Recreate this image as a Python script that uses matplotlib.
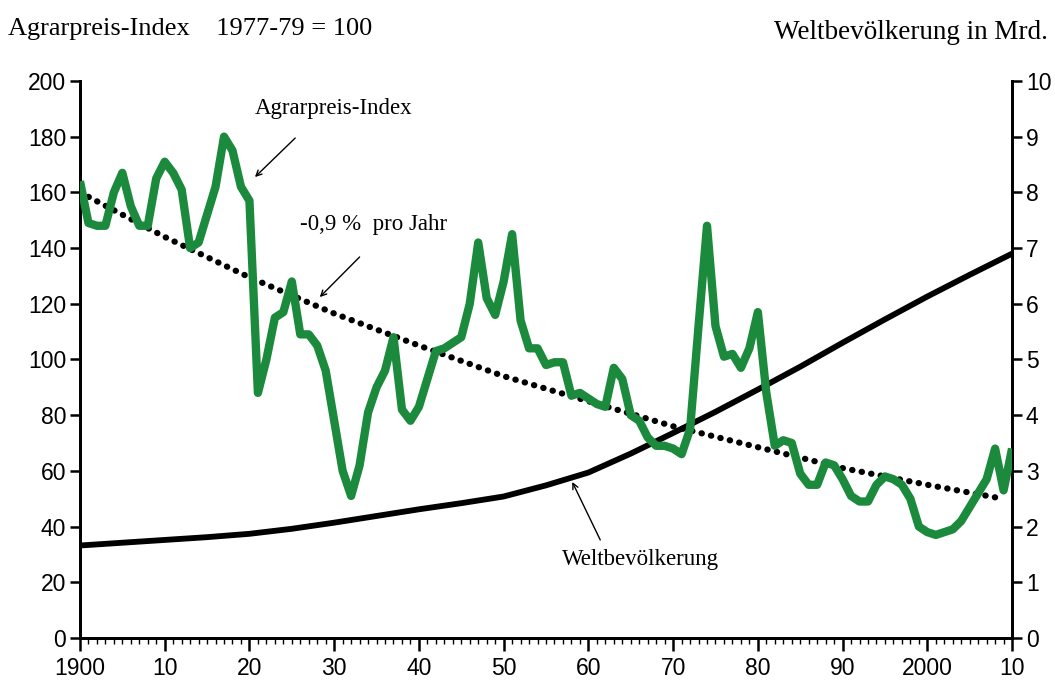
import numpy as np
import matplotlib.pyplot as plt
from matplotlib.ticker import MultipleLocator

# Agrarpreis-Index, jaehrlich 1900-2010 (1977-79 = 100)
jahre = list(range(1900, 2011))
preis = [164, 149, 148, 148, 160, 167, 155, 148, 148, 165,
         171, 167, 161, 140, 142, 152, 162, 180, 175, 162,
         157, 88, 100, 115, 117, 128, 109, 109, 105, 96,
         78, 60, 51, 62, 81, 90, 96, 108, 82, 78,
         83, 93, 103, 104, 106, 108, 120, 142, 122, 116,
         128, 145, 114, 104, 104, 98, 99, 99, 87, 88,
         86, 84, 83, 97, 93, 80, 78, 72, 69, 69,
         68, 66, 75, 112, 148, 112, 101, 102, 97, 104,
         117, 88, 69, 71, 70, 59, 55, 55, 63, 62,
         57, 51, 49, 49, 55, 58, 57, 55, 50, 40,
         38, 37, 38, 39, 42, 47, 52, 57, 68, 53,
         68]

# Trend -0,9 % pro Jahr
trend_jahre = [1900, 1910, 1920, 1930, 1940, 1950, 1960, 1970, 1980, 1990, 2000, 2008]
trend = [160, 144, 129.5, 116.5, 105, 94, 85, 76, 68.5, 61, 55, 50.5]

# Weltbevoelkerung in Mrd.
bev_jahre = [1900, 1905, 1910, 1915, 1920, 1925, 1930, 1935, 1940, 1945, 1950, 1955,
             1960, 1965, 1970, 1975, 1980, 1985, 1990, 1995, 2000, 2005, 2010]
bev = [1.66, 1.71, 1.76, 1.81, 1.87, 1.96, 2.07, 2.19, 2.31, 2.42, 2.54, 2.74,
       2.97, 3.31, 3.68, 4.06, 4.46, 4.87, 5.30, 5.72, 6.13, 6.52, 6.90]

gruen = "#1b8a3c"

plt.rcParams['font.family'] = ['Liberation Sans', 'DejaVu Sans']

fig = plt.figure(figsize=(10.55, 6.86), dpi=100)
ax = fig.add_axes([0.0758, 0.07, 0.8835, 0.812])
ax2 = ax.twinx()

ax.plot(trend_jahre, trend, color="black", linewidth=4.5,
        linestyle=(0, (0.05, 1.5)), dash_capstyle="round", zorder=2)
ax2.plot(bev_jahre, bev, color="black", linewidth=4.2, solid_joinstyle="round", zorder=3)
ax.plot(jahre, preis, color=gruen, linewidth=6, solid_joinstyle="round",
        solid_capstyle="butt", zorder=4)
ax.set_zorder(ax2.get_zorder() + 1)
ax.patch.set_visible(False)

ax.set_xlim(1900, 2010)
ax.set_ylim(0, 200)
ax2.set_ylim(0, 10)

ax.set_xticks(range(1900, 2011, 10))
ax.set_xticklabels(["1900", "10", "20", "30", "40", "50", "60", "70", "80", "90", "2000", "10"])
ax.xaxis.set_minor_locator(MultipleLocator(1))
ax.set_yticks(range(0, 201, 20))
ax2.set_yticks(range(0, 11))

for a in (ax, ax2):
    a.spines["top"].set_visible(False)
    for s in a.spines.values():
        s.set_linewidth(2)
ax.tick_params(axis="x", which="major", length=9, width=1.8, labelsize=16.5, pad=5)
ax.tick_params(axis="x", which="minor", length=4, width=1)
ax.tick_params(axis="y", length=7, width=1.8, labelsize=16.5, pad=3)
ax2.tick_params(axis="y", length=7, width=1.8, labelsize=16.5, pad=3)

serif = ['Liberation Serif', 'DejaVu Serif']
fig.text(0.008, 0.958, "Agrarpreis-Index    1977-79 = 100", family=serif, fontsize=19,
         va="center", ha="left")
fig.text(0.993, 0.953, "Weltbevölkerung in Mrd.", family=serif, fontsize=19.5,
         va="center", ha="right")

pfeil = dict(arrowstyle="->", color="black", lw=1, shrinkA=0, shrinkB=0)
ax.annotate("", xy=(1920.65, 165.5), xytext=(1925.4, 179.5), arrowprops=pfeil)
ax.text(1929.9, 190, "Agrarpreis-Index", family=serif, fontsize=16.5, ha="center", va="center")
ax.annotate("", xy=(1928.3, 122.4), xytext=(1933.0, 136.8), arrowprops=pfeil)
ax.text(1926, 148.5, "-0,9 %  pro Jahr", family=serif, fontsize=16.5, ha="left", va="center")
ax.annotate("", xy=(1958.1, 56), xytext=(1961.4, 35.2), arrowprops=pfeil)
ax.text(1966.1, 28, "Weltbevölkerung", family=serif, fontsize=16.5, ha="center", va="center")

fig.savefig("out.png", dpi=100)
